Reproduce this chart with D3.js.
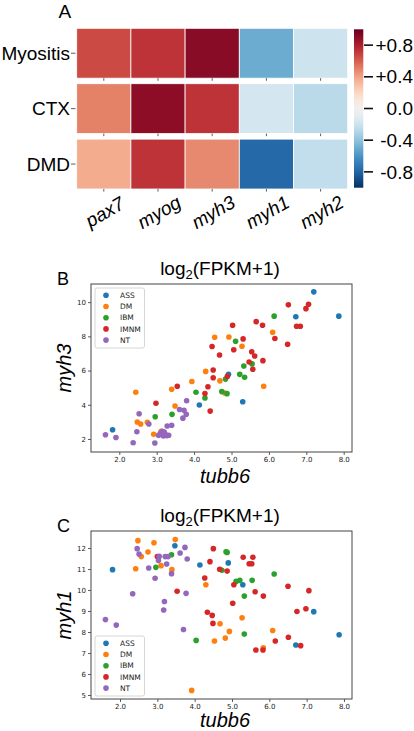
<!DOCTYPE html>
<html><head><meta charset="utf-8">
<script src="https://cdn.jsdelivr.net/npm/d3@7"></script>
<style>body{margin:0;background:#fff} svg{display:block}</style>
</head><body><svg id="c" width="414" height="731"></svg>
<script>
// ---------- data ----------
const heatRows = ["Myositis", "CTX", "DMD"];
const heatCols = ["pax7", "myog", "myh3", "myh1", "myh2"];
const heatMyositis = [0.66, 0.73, 0.91, -0.5, -0.2];
const heatCTX = [0.5, 0.9, 0.73, -0.17, -0.27];
const heatDMD = [0.37, 0.73, 0.48, -0.78, -0.24];
const cbTicks = [-0.8, -0.4, 0, 0.4, 0.8];
const cbTickLabels = ["-0.8", "-0.4", "0.0", "+0.4", "+0.8"];

const groups = ["ASS", "DM", "IBM", "IMNM", "NT"];
const groupColors = ["#1f77b4", "#ff7f0e", "#2ca02c", "#d62728", "#9467bd"];

// panel B: [tubb6, myh3]
const myh3ASS = [[1.82,2.54],[4.14,3.99],[4.92,5.78],[5.30,4.18],[6.72,9.15],[7.20,10.60],[7.87,9.18]];
const myh3DM = [[2.44,4.73],[2.48,2.99],[2.57,2.88],[2.75,2.98],[2.92,2.28],[3.12,2.45],[3.40,4.91],[3.49,3.93],[3.94,5.36],[4.31,5.95],[4.55,7.95],[4.69,5.40],[4.82,4.69],[4.93,7.96],[5.28,7.42],[5.86,5.08],[6.10,8.24]];
const myh3IBM = [[2.96,3.30],[3.41,3.44],[4.05,4.73],[4.29,4.40],[4.74,4.77],[4.88,4.65],[4.84,5.50],[5.11,7.71],[5.22,5.78],[5.35,5.61],[5.33,6.27],[5.55,6.39],[6.14,9.18]];
const myh3IMNM = [[2.98,4.09],[3.55,5.08],[4.29,4.66],[4.37,5.05],[4.43,3.63],[4.51,6.03],[4.51,5.58],[4.48,7.41],[4.68,6.91],[4.89,5.66],[5.03,8.65],[5.06,7.22],[5.31,7.85],[5.47,6.50],[5.57,6.08],[5.54,7.10],[5.62,6.85],[5.66,8.86],[5.83,8.65],[5.84,6.58],[6.16,7.87],[6.50,7.54],[6.52,9.84],[6.74,8.59],[6.84,8.59],[6.99,9.62],[7.06,9.88]];
const myh3NT = [[1.63,2.25],[1.91,2.09],[2.37,1.78],[2.95,1.77],[2.47,2.42],[2.53,3.48],[2.79,2.88],[3.05,2.22],[3.10,2.35],[3.15,2.45],[3.18,2.18],[3.22,2.30],[3.27,2.20],[3.32,2.22],[3.20,2.40],[3.28,2.76],[3.40,2.80],[3.61,3.72],[3.73,3.68],[3.79,3.44],[3.70,3.22],[3.80,4.24]];

// panel C: [tubb6, myh1]
const myh1ASS = [[1.80,10.97],[3.47,12.11],[4.14,11.19],[4.90,11.29],[5.29,10.25],[6.71,7.38],[7.19,8.97],[7.87,7.87]];
const myh1DM = [[2.42,11.01],[2.48,12.35],[2.57,11.59],[2.75,11.81],[2.91,12.25],[3.10,11.16],[3.39,10.97],[3.48,12.40],[3.92,5.22],[4.30,10.25],[4.53,7.57],[4.68,8.39],[4.82,7.71],[4.93,8.03],[5.27,8.68],[5.84,7.25],[6.09,8.07]];
const myh1IBM = [[2.96,11.08],[3.38,11.68],[4.04,7.60],[4.73,10.94],[4.84,11.82],[4.87,11.79],[5.11,10.41],[5.21,10.46],[5.33,9.71],[5.33,7.90],[5.54,10.46],[6.13,10.76]];
const myh1IMNM = [[3.00,11.59],[3.53,9.94],[4.27,10.57],[4.34,8.94],[4.41,11.35],[4.47,8.79],[4.50,11.97],[4.49,8.41],[4.67,10.99],[4.87,10.90],[5.02,9.37],[5.05,10.25],[5.30,11.56],[5.46,11.25],[5.53,11.25],[5.56,11.56],[5.62,9.92],[5.64,7.14],[5.83,7.14],[5.84,9.71],[6.16,7.57],[6.50,10.18],[6.51,7.75],[6.74,8.98],[6.84,7.35],[6.98,9.11],[7.06,9.97]];
const myh1NT = [[1.61,8.59],[1.90,8.33],[2.34,9.82],[2.46,11.97],[2.51,11.71],[2.77,11.05],[2.94,10.56],[3.03,11.40],[3.05,11.60],[3.17,9.05],[3.19,9.45],[3.21,11.59],[3.29,11.59],[3.25,11.24],[3.38,10.78],[3.61,11.76],[3.70,8.12],[3.74,12.03],[3.77,9.84],[3.80,11.48]];

const xTicks = [2, 3, 4, 5, 6, 7, 8];
const myh3Ticks = [2, 4, 6, 8, 10];
const myh1Ticks = [5, 6, 7, 8, 9, 10, 11, 12];

// ---------- drawing ----------
const svg = d3.select("#c");
const SANS = "'Liberation Sans', Arial, Helvetica, sans-serif";
const DV = "'DejaVu Sans', sans-serif";
const color = v => d3.interpolateRdBu((1 - v) / 2);

// Panel A heatmap
svg.append("text").attr("x", 58.5).attr("y", 17.7).attr("font-family", SANS)
  .attr("font-size", 19).text("A");

const hx = d3.scaleBand().domain(heatCols).range([76.7, 347.7]);
const hy = d3.scaleBand().domain(heatRows).range([28.3, 189]).paddingInner(0.1);
const heatValues = [heatMyositis, heatCTX, heatDMD];

heatRows.forEach((r, i) => {
  const g = svg.append("g");
  g.selectAll("rect").data(heatCols).join("rect")
    .attr("x", c => hx(c)).attr("y", hy(r))
    .attr("width", hx.bandwidth()).attr("height", hy.bandwidth())
    .attr("fill", (c, j) => color(heatValues[i][j]))
    .attr("stroke", "#fff").attr("stroke-width", 0.8);
  g.selectAll("line.ct").data(heatCols).join("line").attr("class", "ct")
    .attr("x1", c => hx(c) + hx.bandwidth() / 2).attr("x2", c => hx(c) + hx.bandwidth() / 2)
    .attr("y1", hy(r) + hy.bandwidth()).attr("y2", hy(r) + hy.bandwidth() + 2.6)
    .attr("stroke", "#333").attr("stroke-width", 0.8);
  const cy = hy(r) + hy.bandwidth() / 2;
  g.append("line").attr("x1", 71).attr("x2", 75.5).attr("y1", cy).attr("y2", cy)
    .attr("stroke", "#333").attr("stroke-width", 0.8);
  g.append("text").attr("x", 70).attr("y", cy).attr("dy", "0.35em")
    .attr("text-anchor", "end").attr("font-family", SANS).attr("font-size", 19).text(r);
});

svg.append("g").selectAll("text").data(heatCols).join("text")
  .attr("transform", c => `translate(${hx(c) + hx.bandwidth() / 2 + 1},${212}) rotate(-30)`)
  .attr("text-anchor", "middle").attr("dy", "0.35em")
  .attr("font-family", SANS).attr("font-style", "italic").attr("font-size", 19)
  .text(c => c);

// colorbar
const defs = svg.append("defs");
const grad = defs.append("linearGradient").attr("id", "cbg")
  .attr("x1", 0).attr("y1", 1).attr("x2", 0).attr("y2", 0);
d3.range(0, 1.0001, 0.05).forEach(t => {
  grad.append("stop").attr("offset", t).attr("stop-color", color(-1 + 2 * t));
});
const cbY = d3.scaleLinear().domain([-1, 1]).range([187.7, 29.3]);
svg.append("rect").attr("x", 354).attr("y", cbY(1)).attr("width", 9.3)
  .attr("height", cbY(-1) - cbY(1)).attr("fill", "url(#cbg)");
const cbG = svg.append("g");
cbG.selectAll("line").data(cbTicks).join("line")
  .attr("x1", 364).attr("x2", 373).attr("y1", d => cbY(d)).attr("y2", d => cbY(d))
  .attr("stroke", "#111").attr("stroke-width", 1.6);
cbG.selectAll("text").data(cbTicks).join("text")
  .attr("x", 413).attr("y", d => cbY(d)).attr("dy", "0.35em").attr("text-anchor", "end")
  .attr("font-family", SANS).attr("font-size", 19).text((d, i) => cbTickLabels[i]);

// scatter panels
function scatter(o) {
  const x = d3.scaleLinear().domain(o.xDomain).range([91, 352]);
  const y = d3.scaleLinear().domain(o.yDomain).range([o.bottom, o.top]);
  const g = svg.append("g");
  // panel label
  g.append("text").attr("x", 57).attr("y", o.top + 1).attr("font-family", SANS)
    .attr("font-size", 18).text(o.panel);
  // title
  const t = g.append("text").attr("x", 220).attr("y", o.top - 9).attr("text-anchor", "middle")
    .attr("font-family", SANS).attr("font-size", 19);
  t.append("tspan").text("log");
  t.append("tspan").attr("font-size", 13).attr("dy", 4).text("2");
  t.append("tspan").attr("dy", -4).text("(FPKM+1)");
  // axes
  const ax = g.append("g").attr("transform", `translate(0,${o.bottom})`)
    .call(d3.axisBottom(x).tickValues(xTicks).tickSize(3).tickPadding(2));
  const ay = g.append("g").attr("transform", `translate(91,0)`)
    .call(d3.axisLeft(y).tickValues(o.yTicks).tickSize(3).tickPadding(2));
  [ax, ay].forEach(a => {
    a.select(".domain").remove();
    a.selectAll("line").attr("stroke", "#333").attr("stroke-width", 0.8);
    a.selectAll("text").attr("font-family", DV).attr("font-size", 7).attr("fill", "#222");
  });
  g.append("rect").attr("x", 91).attr("y", o.top).attr("width", 261).attr("height", o.bottom - o.top)
    .attr("fill", "none").attr("stroke", "#444").attr("stroke-width", 1);
  // points
  o.series.forEach((s, i) => {
    g.append("g").selectAll("circle").data(s).join("circle")
      .attr("cx", d => x(d[0])).attr("cy", d => y(d[1])).attr("r", 2.8)
      .attr("fill", groupColors[i]);
  });
  // axis labels
  g.append("text").attr("x", 225).attr("y", o.bottom + o.xlabelGap).attr("text-anchor", "middle")
    .attr("font-family", SANS).attr("font-style", "italic").attr("font-size", 20).text("tubb6");
  g.append("text").attr("transform", `translate(71,${(o.top + o.bottom) / 2}) rotate(-90)`)
    .attr("text-anchor", "middle").attr("font-family", SANS).attr("font-style", "italic")
    .attr("font-size", 20).text(o.ylabel);
  // legend
  const lg = g.append("g");
  lg.append("rect").attr("x", 95).attr("y", o.legendTop).attr("width", 49.5).attr("height", 60)
    .attr("rx", 2).attr("fill", "#fff").attr("fill-opacity", 0.8)
    .attr("stroke", "#ccc").attr("stroke-width", 0.8);
  groups.forEach((name, i) => {
    const yy = o.legendTop + 7.3 + i * 11.2;
    lg.append("circle").attr("cx", 106).attr("cy", yy).attr("r", 2.8).attr("fill", groupColors[i]);
    lg.append("text").attr("x", 120).attr("y", yy).attr("dy", "0.35em").attr("font-family", DV)
      .attr("font-size", 7.5).attr("fill", "#222").text(name);
  });
}

scatter({
  panel: "B", top: 284, bottom: 452, xDomain: [1.243, 8.222], yDomain: [1.24, 11.06],
  yTicks: myh3Ticks, ylabel: "myh3", legendTop: 288, xlabelGap: 31,
  series: [myh3ASS, myh3DM, myh3IBM, myh3IMNM, myh3NT]
});
scatter({
  panel: "C", top: 531, bottom: 699, xDomain: [1.223, 8.215], yDomain: [4.81, 12.81],
  yTicks: myh1Ticks, ylabel: "myh1", legendTop: 636, xlabelGap: 28,
  series: [myh1ASS, myh1DM, myh1IBM, myh1IMNM, myh1NT]
});
</script></body></html>
